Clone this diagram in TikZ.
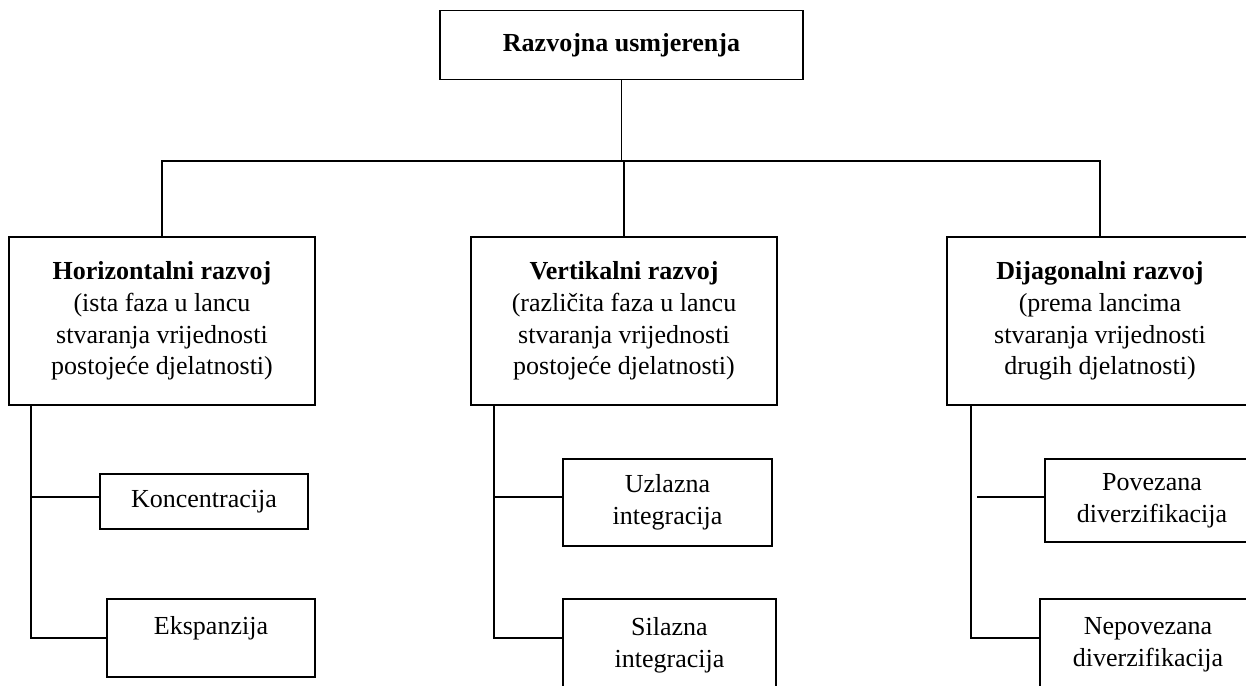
\documentclass[tikz,border=0pt]{standalone}
\usepackage{fontspec}
\setmainfont{Liberation Serif}

\begin{document}
\begin{tikzpicture}[x=0.5pt, y=-0.5pt, line width=0.8pt,
    box/.style={draw, rectangle, align=center, inner sep=2pt, font=\fontsize{13}{15.8}\selectfont},
    mainbox/.style={box, minimum width=153pt, minimum height=84pt}]
    \clip (0,0) rectangle (1246,685);

    \node[box, minimum width=181.5pt, minimum height=34.5pt, font=\fontsize{13}{15.8}\selectfont\bfseries] (root) at (621.5,45) {Razvojna usmjerenja};

    \node[mainbox] (hor) at (162,321) {\textbf{Horizontalni razvoj}\\(ista faza u lancu\\stvaranja vrijednosti\\postojeće djelatnosti)};
    \node[mainbox] (ver) at (624,321) {\textbf{Vertikalni razvoj}\\(različita faza u lancu\\stvaranja vrijednosti\\postojeće djelatnosti)};
    \node[mainbox] (dij) at (1100,321) {\textbf{Dijagonalni razvoj}\\(prema lancima\\stvaranja vrijednosti\\drugih djelatnosti)};

    \node[box, minimum width=104pt, minimum height=27.5pt] (kon) at (204,501.5) {Koncentracija};
    \node[box, minimum width=104pt, minimum height=39pt] (eks) at (211,638) {Ekspanzija\\[-3pt] ~};
    \node[box, minimum width=104.5pt, minimum height=43.5pt] (uzl) at (667.5,502.5) {Uzlazna\\integracija};
    \node[box, minimum width=106.5pt, minimum height=46pt] (sil) at (669.5,645) {Silazna\\integracija};
    \node[box, minimum width=107pt, minimum height=41.5pt] (pov) at (1152,500.5) {Povezana\\diverzifikacija};
    \node[box, minimum width=108pt, minimum height=46pt] (nep) at (1148,645) {Nepovezana\\diverzifikacija};

    % main branches
    \coordinate (bus) at (621.5,161);
    \draw (root.south) -- (bus);
    \draw (hor.north) |- (bus) -| (dij.north);
    \draw (ver.north) -- (ver.north |- bus);

    % sub branches
    \draw ([xshift=11.5pt]hor.south west) |- (eks.west);
    \draw ([yshift=2.25pt]kon.west) -- ++(-68,0);
    \draw ([xshift=12pt]ver.south west) |- ([yshift=3.5pt]sil.west);
    \draw ([yshift=2.75pt]uzl.west) -- ++(-68,0);
    \draw ([xshift=12.5pt]dij.south west) |- ([yshift=3.5pt]nep.west);
    \draw ([yshift=1.75pt]pov.west) -- ++(-67,0);
\end{tikzpicture}
\end{document}
